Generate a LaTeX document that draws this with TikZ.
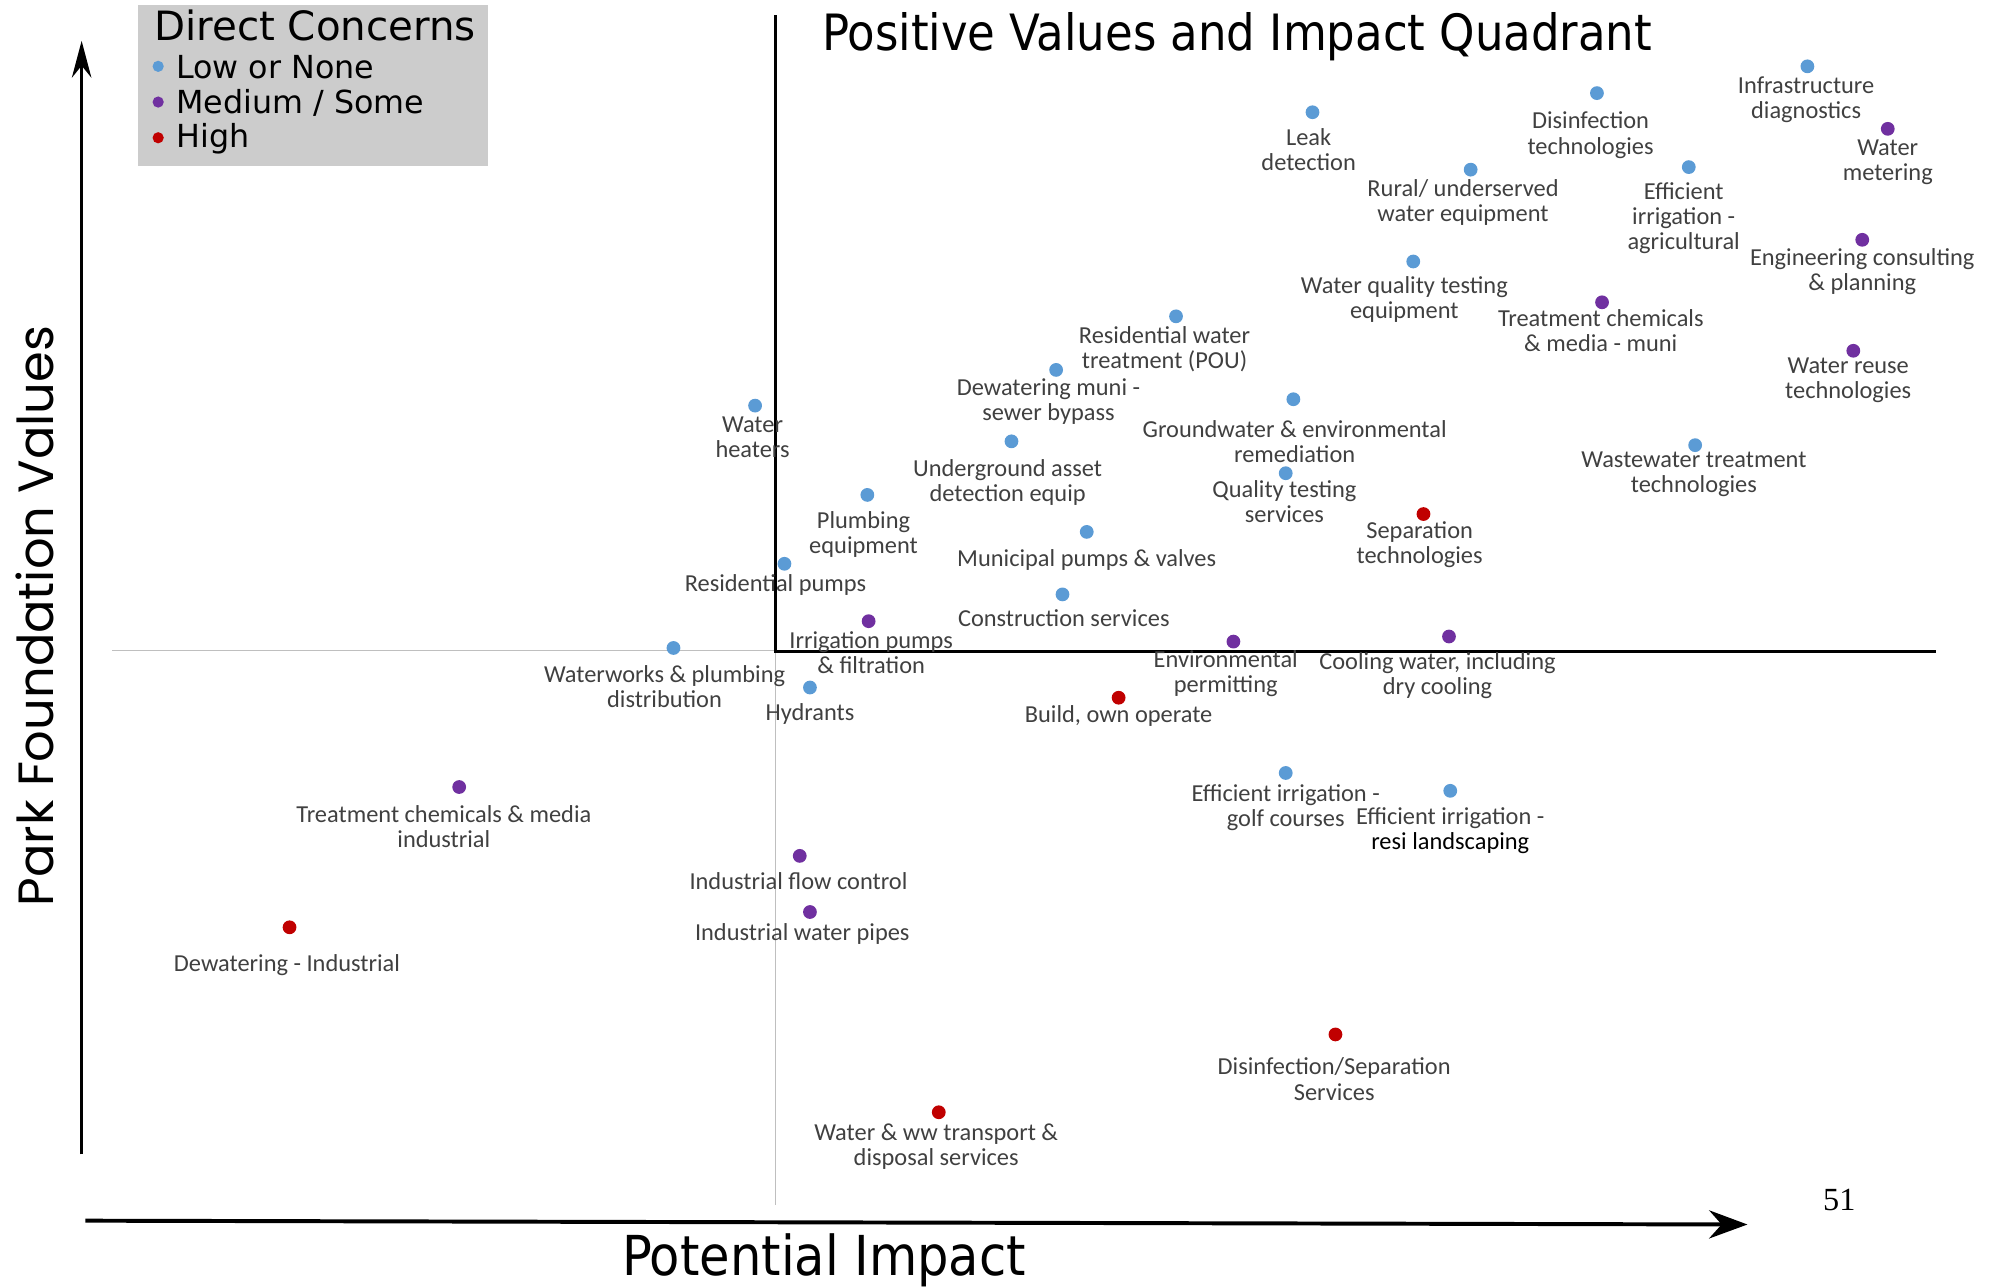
\documentclass[tikz,border=0pt]{standalone}
\usepackage{fontspec}
\setmainfont{Carlito}
\newfontfamily\titlefont{DejaVu Sans Condensed}
\newfontfamily\legendfont{DejaVu Sans}
\newfontfamily\sidefont{Poppins}
\newfontfamily\pagefont{Liberation Serif}
\usetikzlibrary{arrows.meta}
\definecolor{lowblue}{HTML}{5B9BD5}
\definecolor{medpurple}{HTML}{7030A0}
\definecolor{highred}{HTML}{C00000}
\definecolor{labelgray}{HTML}{404040}
\definecolor{legendgray}{HTML}{CCCCCC}
\definecolor{gridgray}{HTML}{BFBFBF}

\begin{document}
\begin{tikzpicture}[x=0.025cm,y=-0.025cm,
  bubble/.style={circle,inner sep=0pt,minimum size=0.27cm},
  lowpt/.style={bubble,fill=lowblue},
  medpt/.style={bubble,fill=medpurple},
  highpt/.style={bubble,fill=highred},
  lbl/.style={align=center,inner sep=0pt,text=labelgray,font=\fontsize{13.6}{14}\selectfont},
  keypt/.style={circle,inner sep=0pt,minimum size=0.22cm}]
\useasboundingbox (0,0) rectangle (1568,1009);

% legend
\node[fill=legendgray,minimum width=6.85cm,minimum height=3.15cm,anchor=north west,inner sep=0pt] (legend) at (108,4) {};
\node[font=\legendfont\fontsize{22.5}{24}\selectfont] (keytitle) at (247,20) {Direct Concerns};
\node[keypt,fill=lowblue] (keylow) at (124,52) {};
\node[keypt,fill=medpurple] (keymed) at (124,80) {};
\node[keypt,fill=highred] (keyhigh) at (124,108) {};
\node[anchor=west,inner sep=0pt,font=\legendfont\fontsize{17.7}{19}\selectfont] (keylowtxt) at (138,53) {Low or None};
\node[anchor=west,inner sep=0pt,font=\legendfont\fontsize{17.7}{19}\selectfont] (keymedtxt) at (138,81) {Medium / Some};
\node[anchor=west,inner sep=0pt,font=\legendfont\fontsize{17.7}{19}\selectfont] (keyhightxt) at (138,109) {High};

\node[font=\titlefont\fontsize{27.9}{30}\selectfont] (title) at (970,29) {Positive Values and Impact Quadrant};
\node[rotate=90,font=\sidefont\fontsize{27.6}{30}\selectfont] (ylabel) at (27,483) {Park Foundation Values};
\node[font=\titlefont\fontsize{30.7}{32}\selectfont] (xlabel) at (646,988) {Potential Impact};
\node[font=\pagefont\fontsize{18}{20}\selectfont] (pagenum) at (1442,941) {51};

% axes and quadrant lines
\coordinate (yfoot) at (64,905);
\coordinate (ytip) at (64,32);
\coordinate (xfoot) at (67,957);
\coordinate (xtip) at (1370,960);
\coordinate (hleft) at (88,510);
\coordinate (origin) at (608,511);
\coordinate (hright) at (1518,511);
\coordinate (vtop) at (608,12);
\coordinate (vbottom) at (608,945);
\draw[gridgray,line width=1pt] (hleft) -- (origin |- hleft);
\draw[gridgray,line width=1pt] (origin) -- (vbottom);
\draw[line width=1.8pt] (vtop) -- (origin) -- (hright);
\draw[line width=2pt,-{Stealth[length=0.72cm,width=0.38cm]}] (yfoot) -- (ytip);
\draw[line width=2.2pt,-{Stealth[length=0.75cm,width=0.55cm]}] (xfoot) -- (xtip);

% points
\node[lowpt] (leak) at (1029,88) {};
\node[lbl] (leaklbl) at (1026,117) {Leak\\detection};
\node[lowpt] (disinf) at (1252,73) {};
\node[lbl] (disinflbl) at (1247,106) {Disinfection\\technologies};
\node[lowpt] (infra) at (1417,52) {};
\node[lbl] (infralbl) at (1416,78) {Infrastructure\\diagnostics};
\node[medpt] (meter) at (1480,101) {};
\node[lbl] (meterlbl) at (1480,127) {Water\\metering};
\node[lowpt] (rural) at (1153,133) {};
\node[lbl] (rurallbl) at (1147,159) {Rural/ underserved\\water equipment};
\node[lowpt] (effag) at (1324,131) {};
\node[lbl] (effaglbl) at (1320,171) {Efficient\\irrigation -\\agricultural};
\node[medpt] (eng) at (1460,188) {};
\node[lbl] (englbl) at (1460,213) {Engineering consulting\\\& planning};
\node[lowpt] (wqequip) at (1108,205) {};
\node[lbl] (wqequiplbl) at (1101,235) {Water quality testing\\equipment};
\node[medpt] (chemmuni) at (1256,237) {};
\node[lbl] (chemmunilbl) at (1255,259) {Treatment chemicals\\\& media - muni};
\node[medpt] (reuse) at (1453,275) {};
\node[lbl] (reuselbl) at (1449,298) {Water reuse\\technologies};
\node[lowpt] (pou) at (922,248) {};
\node[lbl] (poulbl) at (913,274) {Residential water\\treatment (POU)};
\node[lowpt] (dewmuni) at (828,290) {};
\node[lbl] (dewmunilbl) at (822,315) {Dewatering muni -\\sewer bypass};
\node[lowpt] (ground) at (1014,313) {};
\node[lbl] (groundlbl) at (1015,346) {Groundwater \& environmental\\remediation};
\node[lowpt] (heater) at (592,318) {};
\node[lbl] (heaterlbl) at (590,343) {Water\\heaters};
\node[lowpt] (wwtreat) at (1329,349) {};
\node[lbl] (wwtreatlbl) at (1328,372) {Wastewater treatment\\technologies};
\node[lowpt] (asset) at (793,346) {};
\node[lbl] (assetlbl) at (790,378) {Underground asset\\detection equip};
\node[lowpt] (qts) at (1008,371) {};
\node[lbl] (qtslbl) at (1007,393) {Quality testing\\services};
\node[highpt] (septech) at (1116,403) {};
\node[lbl] (septechlbl) at (1113,427) {Separation\\technologies};
\node[lowpt] (plumb) at (680,388) {};
\node[lbl] (plumblbl) at (677,419) {Plumbing\\equipment};
\node[lowpt] (munipump) at (852,417) {};
\node[lbl] (munipumplbl) at (852,439) {Municipal pumps \& valves};
\node[lowpt] (respump) at (615,442) {};
\node[lbl] (respumplbl) at (608,459) {Residential pumps};
\node[lowpt] (constr) at (833,466) {};
\node[lbl] (constrlbl) at (834,485) {Construction services};
\node[medpt] (irrpump) at (681,487) {};
\node[lbl] (irrpumplbl) at (683,512) {Irrigation pumps\\\& filtration};
\node[lowpt] (waterworks) at (528,508) {};
\node[lbl] (waterworkslbl) at (521,538) {Waterworks \& plumbing\\distribution};
\node[medpt] (envperm) at (967,503) {};
\node[lbl] (envpermlbl) at (961,528) {Environmental\\permitting};
\node[medpt] (cooling) at (1136,499) {};
\node[lbl] (coolinglbl) at (1127,530) {Cooling water, including\\dry cooling};
\node[lowpt] (hydrant) at (635,539) {};
\node[lbl] (hydrantlbl) at (635,560) {Hydrants};
\node[highpt] (boo) at (877,547) {};
\node[lbl] (boolbl) at (877,561) {Build, own operate};
\node[lowpt] (golf) at (1008,606) {};
\node[lbl] (golflbl) at (1008,633) {Efficient irrigation -\\golf courses};
\node[lowpt] (resi) at (1137,620) {};
\node[lbl] (resilbl) at (1137,651) {Efficient irrigation -\\\textcolor{black}{resi landscaping}};
\node[medpt] (chemind) at (360,617) {};
\node[lbl] (chemindlbl) at (348,648) {Treatment chemicals \& media\\industrial};
\node[medpt] (flow) at (627,671) {};
\node[lbl] (flowlbl) at (626,691) {Industrial flow control};
\node[medpt] (pipes) at (635,715) {};
\node[lbl] (pipeslbl) at (629,732) {Industrial water pipes};
\node[highpt] (dewind) at (227,727) {};
\node[lbl] (dewindlbl) at (225,757) {Dewatering - Industrial};
\node[highpt] (dissep) at (1047,811) {};
\node[lbl] (disseplbl) at (1046,846) {Disinfection/Separation\\Services};
\node[highpt] (transport) at (736,872) {};
\node[lbl] (transportlbl) at (734,899) {Water \& ww transport \&\\disposal services};
\end{tikzpicture}
\end{document}
